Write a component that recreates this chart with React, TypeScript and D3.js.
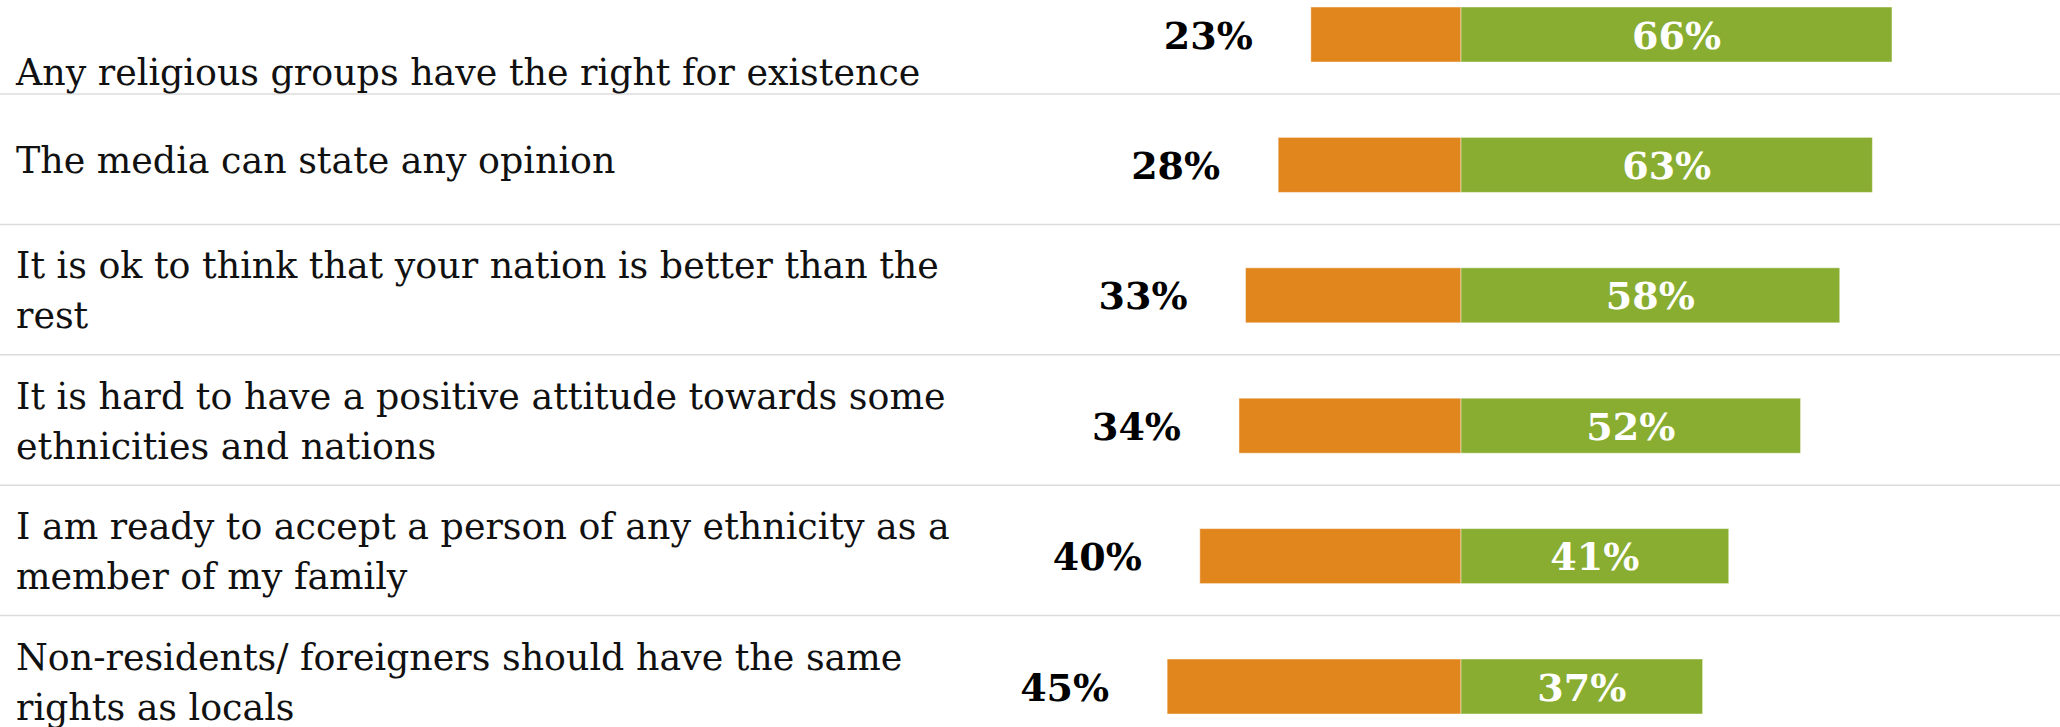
import React from "react";
import * as d3 from "d3";

const categories: string[][] = [
  ["Any religious groups have the right for existence"],
  ["The media can state any opinion"],
  ["It is ok to think that your nation is better than the", "rest"],
  ["It is hard to have a positive attitude towards some", "ethnicities and nations"],
  ["I am ready to accept a person of any ethnicity as a", "member of my family"],
  ["Non-residents/ foreigners should have the same", "rights as locals"],
];
const disagree: number[] = [23, 28, 33, 34, 40, 45];
const agree: number[] = [66, 63, 58, 52, 41, 37];

const W = 2060;
const H = 727;
const ORANGE = "#E1861D";
const GREEN = "#89AD30";
const FONT = "'DejaVu Serif', Georgia, serif";

export default function App() {
  const ids = categories.map((_, i) => String(i));
  const x = d3.scaleLinear().domain([-100, 100]).range([1461 - 653, 1461 + 653]);
  const y = d3.scalePoint<string>().domain(ids).range([34.5, 686.5]);
  const barH = 55;
  const lineH = 50;

  return (
    <svg
      width={W}
      height={H}
      style={{ position: "absolute", left: 0, top: 0, display: "block", background: "#fff" }}
    >
      {ids.map((id, i) => {
        const cy = y(id)!;
        const lines = categories[i];
        const drop = i === 0 ? 42 : 0;
        const firstBase = cy + 8 - (lineH / 2) * (lines.length - 1) + drop;
        const x0 = x(0);
        const xl = x(-disagree[i]);
        const xr = x(agree[i]);
        return (
          <g key={id}>
            <line x1={0} x2={W} y1={cy + 59.5} y2={cy + 59.5} stroke="#dcdcdc" strokeWidth={1.5} />
            {lines.map((t, k) => (
              <text
                key={k}
                x={16}
                y={firstBase + k * lineH}
                fontFamily={FONT}
                fontSize={36.4}
                fill="#111"
              >
                {t}
              </text>
            ))}
            <rect
              x={xl}
              y={cy - barH / 2}
              width={x0 - xl}
              height={barH}
              fill={ORANGE}
              stroke="rgba(255,255,255,0.45)"
              strokeWidth={1}
            />
            <rect
              x={x0}
              y={cy - barH / 2}
              width={xr - x0}
              height={barH}
              fill={GREEN}
              stroke="rgba(255,255,255,0.45)"
              strokeWidth={1}
            />
            <text
              x={xl - 58}
              y={cy + 14}
              textAnchor="end"
              fontFamily={FONT}
              fontWeight="bold"
              fontSize={38}
              fill="#000"
            >
              {disagree[i]}%
            </text>
            <text
              x={(x0 + xr) / 2}
              y={cy + 14}
              textAnchor="middle"
              fontFamily={FONT}
              fontWeight="bold"
              fontSize={38}
              fill="#fff"
            >
              {agree[i]}%
            </text>
          </g>
        );
      })}
    </svg>
  );
}
